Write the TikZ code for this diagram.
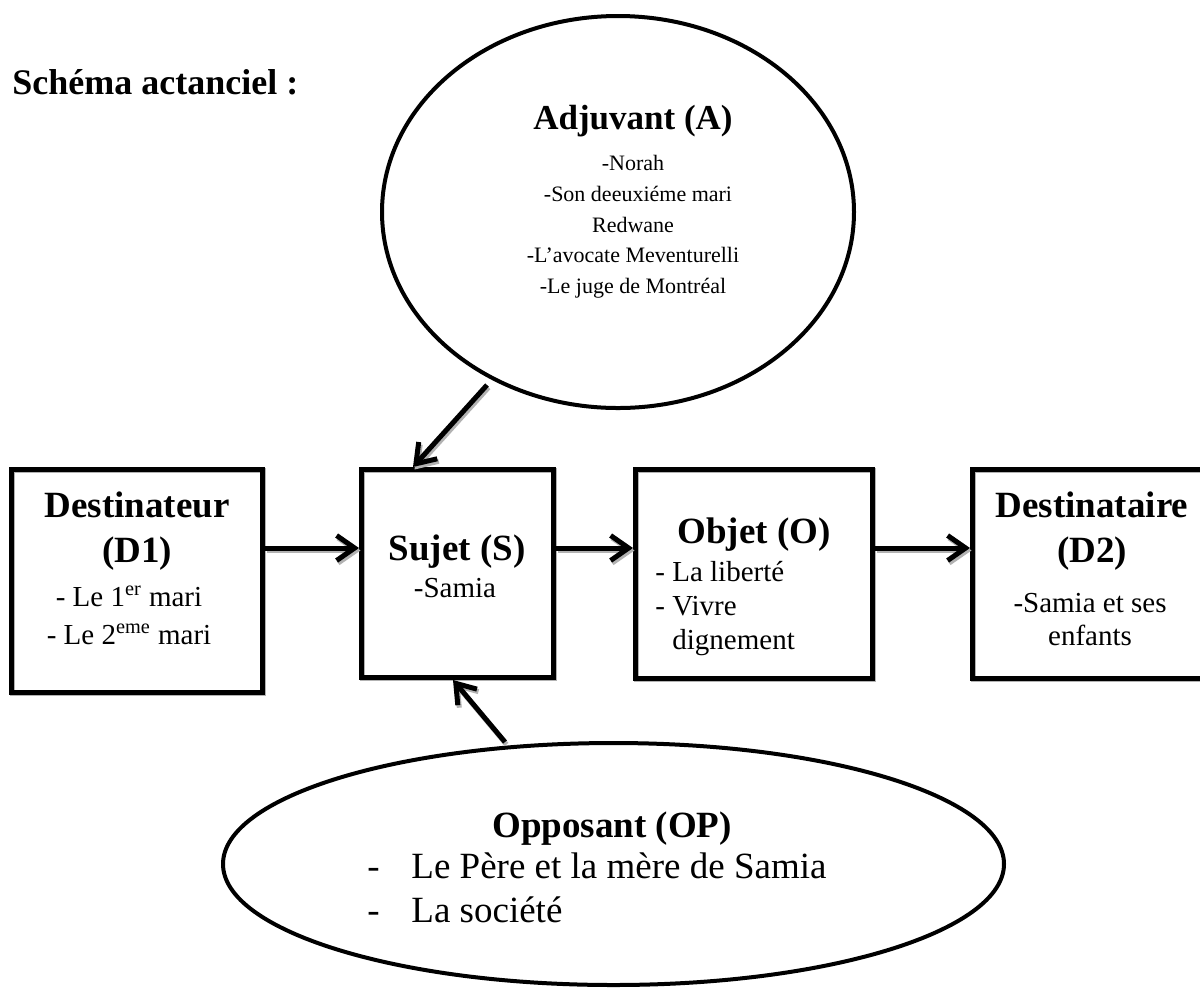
\documentclass[tikz,border=0pt]{standalone}
\usepackage{fontspec}
\setmainfont{Liberation Serif}
\usetikzlibrary{arrows.meta}
\begin{document}
\begin{tikzpicture}[x=0.5pt,y=-0.5pt,
  boxst/.style={draw, line width=2.5pt, inner sep=0pt, outer sep=1.25pt,
    preaction={draw=gray!60, line width=2.5pt, transform canvas={shift={(1.2,1.2)}}}},
  arr/.style={line width=2.5pt, -{Straight Barb[length=9pt,width=12.5pt]}},
  arrsh/.style={arr, draw=gray!60},
  hd/.style={inner sep=0pt, anchor=base, font=\bfseries\fontsize{18.5}{22}\selectfont},
  bd/.style={inner sep=0pt, anchor=base, font=\fontsize{14.5}{17}\selectfont},
  bdl/.style={bd, anchor=base west},
  ad/.style={inner sep=0pt, anchor=base, font=\fontsize{11}{13}\selectfont},
  op/.style={inner sep=0pt, anchor=base west, font=\fontsize{18.5}{22}\selectfont}]
\newcommand{\sarrow}[2]{%
  \draw[arrsh, transform canvas={shift={(1.5,2.5)}}] #1 -- #2;
  \draw[arr] #1 -- #2;}
\clip (0,0) rectangle (1200,987);
\fill[white] (0,0) rectangle (1200,987);

% title
\node[inner sep=0pt, anchor=base west, font=\bfseries\fontsize{18}{22}\selectfont] (title) at (12,94) {Schéma actanciel :};

% ellipses
\coordinate (adj) at (618,212);
\draw[line width=2pt] (adj) ellipse [x radius=236, y radius=196];
\coordinate (opp) at (613.5,864);
\draw[line width=2pt] (opp) ellipse [x radius=390.5, y radius=121];

% boxes
\node[boxst, minimum width=125.5pt, minimum height=111.5pt] (d1) at (137,581) {};
\node[boxst, minimum width=96pt, minimum height=104pt] (s) at (457.5,573.5) {};
\node[boxst, minimum width=118.5pt, minimum height=104.5pt] (o) at (754,574) {};
\node[boxst, minimum width=119.5pt, minimum height=104.5pt] (d2) at (1092,574) {};

% Adjuvant text
\node[inner sep=0pt, anchor=base, font=\bfseries\fontsize{17.5}{20}\selectfont] (adjh) at (633,129) {Adjuvant (A)};
\node[ad] (a1) at (633,170) {-Norah};
\node[ad] (a2) at (638,201) {-Son deeuxiéme mari};
\node[ad] (a3) at (633,232) {Redwane};
\node[ad] (a4) at (633,262) {-L’avocate Meventurelli};
\node[ad] (a5) at (633,293) {-Le juge de Montréal};

% D1 text
\node[hd] (d1h1) at (137,517) {Destinateur};
\node[hd] (d1h2) at (137,562) {(D1)};
\node[bd] (d1b1) at (129,606) {- Le 1\textsuperscript{er} mari};
\node[bd] (d1b2) at (129,644) {- Le 2\textsuperscript{eme} mari};

% S text
\node[hd] (sh) at (457,560) {Sujet (S)};
\node[bd] (sb) at (455,597) {-Samia};

% O text
\node[hd] (oh) at (754,543) {Objet (O)};
\node[bdl] (ob1) at (655,581) {- La liberté};
\node[bdl] (ob2) at (655,615) {-};
\node[bdl] (ob3) at (672,615) {Vivre};
\node[bdl] (ob4) at (672,649) {dignement};

% D2 text
\node[hd] (d2h1) at (1092,517) {Destinataire};
\node[hd] (d2h2) at (1092,562) {(D2)};
\node[bd] (d2b1) at (1090,612) {-Samia et ses};
\node[bd] (d2b2) at (1090,645) {enfants};

% Opposant text
\node[hd] (oph) at (612,837) {Opposant (OP)};
\node[op] (opd1) at (367,878) {-};
\node[op] (opb1) at (411,878) {Le Père et la mère de Samia};
\node[op] (opd2) at (367,922) {-};
\node[op] (opb2) at (411,922) {La société};

% arrows
\coordinate (ay) at (0,548);
\sarrow{(d1.east |- ay)}{(s.west |- ay)}
\sarrow{(s.east |- ay)}{(o.west |- ay)}
\sarrow{(o.east |- ay)}{(d2.west |- ay)}
\coordinate (atail) at (487,385);
\coordinate (ax) at (413,0);
\sarrow{(atail)}{(s.north -| ax)}
\coordinate (otail) at (505,742);
\coordinate (ox) at (453,0);
\sarrow{(otail)}{(s.south -| ox)}
\end{tikzpicture}
\end{document}
